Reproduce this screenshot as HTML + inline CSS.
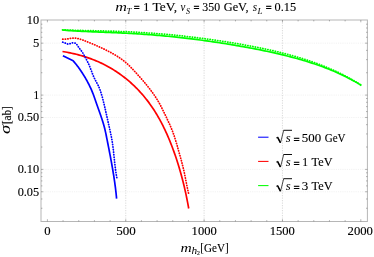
<!DOCTYPE html>
<html><head><meta charset="utf-8"><title>plot</title>
<style>
html,body{margin:0;padding:0;background:#fff;}
svg{display:block;will-change:transform;}
text{font-family:"Liberation Serif",serif;fill:#000;stroke:#000;stroke-width:0.12px;}
.i{font-style:italic;stroke-width:0px;}
.e{stroke-width:0.4px;}
</style></head><body>
<svg width="374" height="257" viewBox="0 0 374 257">
<rect width="374" height="257" fill="#fff"/>
<g stroke="#cccccc" stroke-width="0.7" stroke-dasharray="1.25,1.25" fill="none">
<line x1="125.75" y1="20.0" x2="125.75" y2="221.5"/>
<line x1="204.10" y1="20.0" x2="204.10" y2="221.5"/>
<line x1="282.45" y1="20.0" x2="282.45" y2="221.5"/>
</g>
<g stroke="#e8e8e8" stroke-width="0.6" stroke-dasharray="1.1,1.1" fill="none">
<line x1="41.0" y1="43.17" x2="367.4" y2="43.17"/>
<line x1="41.0" y1="95.10" x2="367.4" y2="95.10"/>
<line x1="41.0" y1="117.47" x2="367.4" y2="117.47"/>
<line x1="41.0" y1="169.40" x2="367.4" y2="169.40"/>
<line x1="41.0" y1="191.77" x2="367.4" y2="191.77"/>
</g>
<path d="M62.50,30.03 L64.65,30.21 L66.80,30.38 L68.95,30.54 L71.10,30.68 L73.25,30.82 L75.40,30.95 L77.55,31.07 L79.70,31.19 L81.85,31.30 L84.00,31.40 L86.15,31.50 L88.30,31.60 L90.45,31.69 L92.61,31.78 L94.76,31.86 L96.91,31.95 L99.06,32.03 L101.21,32.12 L103.36,32.20 L105.51,32.29 L107.66,32.37 L109.81,32.46 L111.96,32.55 L114.11,32.64 L116.26,32.73 L118.41,32.83 L120.56,32.93 L122.71,33.03 L124.86,33.14 L127.01,33.25 L129.16,33.36 L131.31,33.48 L133.46,33.61 L135.61,33.73 L137.76,33.87 L139.91,34.00 L142.06,34.14 L144.21,34.29 L146.36,34.44 L148.51,34.60 L150.66,34.76 L152.82,34.93 L154.97,35.11 L157.12,35.29 L159.27,35.47 L161.42,35.66 L163.57,35.85 L165.72,36.06 L167.87,36.26 L170.02,36.47 L172.17,36.69 L174.32,36.91 L176.47,37.14 L178.62,37.37 L180.77,37.61 L182.92,37.85 L185.07,38.10 L187.22,38.36 L189.37,38.62 L191.52,38.88 L193.67,39.15 L195.82,39.42 L197.97,39.70 L200.12,39.98 L202.27,40.27 L204.42,40.57 L206.57,40.86 L208.72,41.17 L210.87,41.48 L213.03,41.79 L215.18,42.11 L217.33,42.43 L219.48,42.75 L221.63,43.09 L223.78,43.42 L225.93,43.76 L228.08,44.11 L230.23,44.46 L232.38,44.82 L234.53,45.18 L236.68,45.54 L238.83,45.91 L240.98,46.29 L243.13,46.67 L245.28,47.06 L247.43,47.45 L249.58,47.85 L251.73,48.26 L253.88,48.67 L256.03,49.08 L258.18,49.51 L260.33,49.94 L262.48,50.37 L264.63,50.82 L266.78,51.27 L268.93,51.73 L271.08,52.19 L273.24,52.67 L275.39,53.15 L277.54,53.65 L279.69,54.15 L281.84,54.66 L283.99,55.18 L286.14,55.71 L288.29,56.25 L290.44,56.81 L292.59,57.37 L294.74,57.95 L296.89,58.54 L299.04,59.14 L301.19,59.76 L303.34,60.39 L305.49,61.04 L307.64,61.70 L309.79,62.38 L311.94,63.07 L314.09,63.78 L316.24,64.51 L318.39,65.26 L320.54,66.03 L322.69,66.82 L324.84,67.63 L326.99,68.46 L329.14,69.31 L331.29,70.19 L333.45,71.09 L335.60,72.01 L337.75,72.96 L339.90,73.94 L342.05,74.95 L344.20,75.98 L346.35,77.05 L348.50,78.14 L350.65,79.27 L352.80,80.43 L354.95,81.62 L357.10,82.85 L359.25,84.12 L361.40,85.42" fill="none" stroke="#00ff00" stroke-width="1.7" stroke-linejoin="round"/>
<path d="M62.50,29.86 L64.65,29.95 L66.80,30.03 L68.95,30.11 L71.10,30.18 L73.25,30.25 L75.40,30.31 L77.55,30.37 L79.70,30.42 L81.85,30.48 L84.00,30.52 L86.15,30.57 L88.30,30.62 L90.45,30.67 L92.61,30.71 L94.76,30.76 L96.91,30.81 L99.06,30.85 L101.21,30.90 L103.36,30.96 L105.51,31.01 L107.66,31.07 L109.81,31.13 L111.96,31.19 L114.11,31.26 L116.26,31.33 L118.41,31.41 L120.56,31.49 L122.71,31.57 L124.86,31.66 L127.01,31.75 L129.16,31.85 L131.31,31.95 L133.46,32.06 L135.61,32.17 L137.76,32.29 L139.91,32.41 L142.06,32.54 L144.21,32.68 L146.36,32.82 L148.51,32.96 L150.66,33.11 L152.82,33.27 L154.97,33.43 L157.12,33.60 L159.27,33.77 L161.42,33.95 L163.57,34.14 L165.72,34.33 L167.87,34.52 L170.02,34.72 L172.17,34.93 L174.32,35.14 L176.47,35.36 L178.62,35.58 L180.77,35.81 L182.92,36.04 L185.07,36.28 L187.22,36.53 L189.37,36.77 L191.52,37.03 L193.67,37.29 L195.82,37.55 L197.97,37.82 L200.12,38.10 L202.27,38.38 L204.42,38.66 L206.57,38.95 L208.72,39.25 L210.87,39.55 L213.03,39.85 L215.18,40.16 L217.33,40.48 L219.48,40.80 L221.63,41.12 L223.78,41.45 L225.93,41.79 L228.08,42.13 L230.23,42.48 L232.38,42.83 L234.53,43.19 L236.68,43.55 L238.83,43.92 L240.98,44.30 L243.13,44.68 L245.28,45.07 L247.43,45.46 L249.58,45.87 L251.73,46.27 L253.88,46.69 L256.03,47.11 L258.18,47.54 L260.33,47.98 L262.48,48.42 L264.63,48.88 L266.78,49.34 L268.93,49.81 L271.08,50.29 L273.24,50.78 L275.39,51.28 L277.54,51.79 L279.69,52.31 L281.84,52.84 L283.99,53.38 L286.14,53.93 L288.29,54.50 L290.44,55.08 L292.59,55.67 L294.74,56.28 L296.89,56.90 L299.04,57.53 L301.19,58.18 L303.34,58.85 L305.49,59.53 L307.64,60.23 L309.79,60.94 L311.94,61.68 L314.09,62.43 L316.24,63.20 L318.39,63.99 L320.54,64.81 L322.69,65.64 L324.84,66.50 L326.99,67.38 L329.14,68.29 L331.29,69.22 L333.45,70.17 L335.60,71.15 L337.75,72.16 L339.90,73.20 L342.05,74.27 L344.20,75.36 L346.35,76.49 L348.50,77.65 L350.65,78.84 L352.80,80.06 L354.95,81.32 L357.10,82.62 L359.25,83.95 L361.40,85.32" fill="none" stroke="#00ff00" stroke-width="1.75" stroke-dasharray="0.3,2.25" stroke-linecap="round" stroke-linejoin="round"/>
<path d="M62.48,51.50 L64.02,51.74 L65.56,52.01 L67.10,52.28 L68.63,52.58 L70.16,52.88 L71.69,53.21 L73.22,53.55 L74.75,53.90 L76.27,54.27 L77.78,54.66 L79.29,55.06 L80.80,55.48 L82.30,55.91 L83.80,56.37 L85.29,56.84 L86.78,57.32 L88.26,57.82 L89.73,58.34 L91.20,58.88 L92.66,59.44 L94.12,60.01 L95.57,60.60 L97.01,61.21 L98.44,61.83 L99.86,62.47 L101.28,63.14 L102.68,63.81 L104.08,64.51 L105.47,65.22 L106.85,65.95 L108.22,66.70 L109.59,67.47 L110.94,68.25 L112.28,69.05 L113.61,69.87 L114.93,70.70 L116.24,71.56 L117.54,72.42 L118.83,73.31 L120.11,74.21 L121.37,75.13 L122.63,76.06 L123.87,77.01 L125.10,77.97 L126.32,78.95 L127.53,79.94 L128.72,80.95 L129.91,81.97 L131.08,83.01 L132.23,84.06 L133.38,85.13 L134.51,86.20 L135.63,87.30 L136.73,88.40 L137.82,89.52 L138.90,90.65 L139.96,91.80 L141.01,92.95 L142.05,94.12 L143.07,95.30 L144.08,96.49 L145.07,97.70 L146.05,98.91 L147.01,100.14 L147.96,101.37 L148.89,102.62 L149.81,103.88 L150.71,105.15 L151.60,106.43 L152.48,107.71 L153.34,109.01 L154.19,110.32 L155.02,111.63 L155.84,112.96 L156.65,114.29 L157.45,115.63 L158.23,116.98 L159.01,118.34 L159.76,119.70 L160.51,121.07 L161.25,122.45 L161.97,123.84 L162.68,125.23 L163.38,126.63 L164.07,128.03 L164.75,129.44 L165.42,130.86 L166.08,132.28 L166.72,133.71 L167.36,135.14 L167.99,136.58 L168.60,138.02 L169.21,139.46 L169.81,140.91 L170.40,142.37 L170.97,143.82 L171.54,145.28 L172.11,146.75 L172.66,148.21 L173.20,149.68 L173.74,151.16 L174.27,152.63 L174.79,154.10 L175.30,155.58 L175.80,157.06 L176.30,158.54 L176.79,160.03 L177.27,161.51 L177.74,163.00 L178.21,164.49 L178.67,165.98 L179.12,167.47 L179.57,168.97 L180.00,170.47 L180.43,171.97 L180.85,173.47 L181.27,174.97 L181.68,176.47 L182.08,177.98 L182.47,179.49 L182.86,181.00 L183.24,182.51 L183.61,184.02 L183.98,185.54 L184.34,187.06 L184.69,188.58 L185.04,190.10 L185.38,191.62 L185.72,193.15 L186.04,194.67 L186.36,196.20 L186.68,197.73 L186.99,199.26 L187.29,200.79 L187.59,202.33 L187.88,203.87 L188.16,205.40 L188.44,206.94 L188.71,208.49" fill="none" stroke="#ff0000" stroke-width="1.7" stroke-linejoin="round"/>
<path d="M62.70,39.15 L64.26,39.16 L65.83,39.05 L67.40,38.87 L68.97,38.64 L70.53,38.42 L72.10,38.24 L73.65,38.14 L75.19,38.17 L76.72,38.33 L78.24,38.63 L79.74,39.02 L81.24,39.49 L82.72,40.01 L84.20,40.57 L85.68,41.14 L87.14,41.72 L88.61,42.30 L90.06,42.89 L91.51,43.48 L92.96,44.09 L94.40,44.70 L95.84,45.33 L97.27,45.96 L98.70,46.60 L100.13,47.25 L101.55,47.91 L102.96,48.58 L104.38,49.26 L105.79,49.96 L107.20,50.66 L108.60,51.38 L110.00,52.11 L111.39,52.86 L112.77,53.62 L114.14,54.41 L115.50,55.21 L116.84,56.03 L118.17,56.87 L119.48,57.74 L120.77,58.63 L122.04,59.55 L123.29,60.49 L124.52,61.46 L125.72,62.46 L126.89,63.49 L128.04,64.55 L129.17,65.63 L130.28,66.73 L131.38,67.85 L132.46,68.99 L133.54,70.14 L134.60,71.29 L135.67,72.45 L136.73,73.61 L137.79,74.78 L138.84,75.95 L139.89,77.12 L140.94,78.30 L141.98,79.49 L143.01,80.68 L144.03,81.88 L145.05,83.08 L146.05,84.29 L147.05,85.51 L148.03,86.74 L149.01,87.97 L149.97,89.22 L150.92,90.47 L151.85,91.73 L152.77,93.00 L153.67,94.28 L154.56,95.57 L155.43,96.87 L156.29,98.19 L157.12,99.51 L157.93,100.85 L158.73,102.20 L159.50,103.56 L160.26,104.94 L160.99,106.32 L161.71,107.72 L162.42,109.12 L163.11,110.53 L163.80,111.95 L164.48,113.37 L165.16,114.79 L165.83,116.21 L166.50,117.63 L167.18,119.05 L167.85,120.47 L168.51,121.90 L169.17,123.32 L169.82,124.75 L170.45,126.19 L171.07,127.63 L171.67,129.08 L172.24,130.53 L172.80,132.00 L173.33,133.47 L173.85,134.95 L174.35,136.44 L174.84,137.93 L175.31,139.43 L175.77,140.93 L176.23,142.44 L176.67,143.94 L177.10,145.45 L177.54,146.97 L177.96,148.48 L178.39,150.00 L178.81,151.51 L179.24,153.02 L179.66,154.54 L180.09,156.05 L180.51,157.56 L180.93,159.07 L181.35,160.59 L181.75,162.10 L182.15,163.62 L182.55,165.14 L182.92,166.66 L183.29,168.18 L183.65,169.71 L183.99,171.24 L184.32,172.77 L184.64,174.31 L184.95,175.85 L185.26,177.39 L185.56,178.93 L185.86,180.47 L186.16,182.01 L186.46,183.55 L186.77,185.09 L187.08,186.63 L187.40,188.17 L187.73,189.70 L188.07,191.24 L188.42,192.77 L188.79,194.29" fill="none" stroke="#ff0000" stroke-width="1.75" stroke-dasharray="0.3,2.25" stroke-linecap="round" stroke-linejoin="round"/>
<path d="M62.90,55.80 L73.12,60.78 L73.81,61.58 L74.50,62.38 L75.17,63.19 L75.84,64.01 L76.49,64.83 L77.14,65.67 L77.78,66.50 L78.41,67.35 L79.03,68.20 L79.64,69.06 L80.25,69.92 L80.84,70.79 L81.43,71.67 L82.01,72.55 L82.59,73.43 L83.15,74.33 L83.71,75.22 L84.26,76.12 L84.80,77.03 L85.34,77.94 L85.87,78.85 L86.39,79.77 L86.90,80.69 L87.41,81.62 L87.91,82.55 L88.40,83.48 L88.88,84.42 L89.35,85.37 L89.82,86.31 L90.27,87.27 L90.71,88.22 L91.14,89.18 L91.57,90.15 L91.98,91.12 L92.38,92.09 L92.77,93.07 L93.15,94.05 L93.52,95.04 L93.88,96.03 L94.23,97.02 L94.58,98.01 L94.93,99.01 L95.28,100.00 L95.62,101.00 L95.96,102.00 L96.31,103.00 L96.66,103.99 L97.01,104.99 L97.37,105.98 L97.72,106.98 L98.08,107.97 L98.43,108.97 L98.79,109.96 L99.15,110.95 L99.50,111.95 L99.86,112.94 L100.21,113.94 L100.56,114.94 L100.90,115.93 L101.24,116.93 L101.58,117.93 L101.91,118.93 L102.24,119.94 L102.56,120.94 L102.87,121.95 L103.18,122.95 L103.47,123.96 L103.76,124.98 L104.04,125.99 L104.31,127.01 L104.57,128.03 L104.83,129.05 L105.07,130.07 L105.30,131.10 L105.53,132.13 L105.76,133.16 L105.97,134.19 L106.19,135.22 L106.40,136.25 L106.60,137.29 L106.81,138.32 L107.01,139.36 L107.22,140.39 L107.42,141.43 L107.63,142.46 L107.83,143.50 L108.04,144.53 L108.24,145.57 L108.44,146.60 L108.65,147.64 L108.85,148.67 L109.05,149.71 L109.25,150.74 L109.45,151.78 L109.65,152.82 L109.85,153.85 L110.05,154.89 L110.24,155.93 L110.44,156.96 L110.64,158.00 L110.83,159.04 L111.02,160.07 L111.21,161.11 L111.40,162.15 L111.59,163.19 L111.78,164.23 L111.96,165.26 L112.14,166.30 L112.33,167.34 L112.51,168.38 L112.68,169.42 L112.86,170.46 L113.03,171.50 L113.20,172.54 L113.37,173.58 L113.54,174.63 L113.71,175.67 L113.87,176.71 L114.03,177.75 L114.19,178.80 L114.34,179.84 L114.49,180.88 L114.64,181.93 L114.79,182.97 L114.93,184.02 L115.07,185.06 L115.21,186.11 L115.35,187.15 L115.48,188.20 L115.61,189.25 L115.73,190.30 L115.85,191.35 L115.97,192.39 L116.08,193.44 L116.19,194.49 L116.30,195.54 L116.41,196.60 L116.50,197.65 L116.60,198.70" fill="none" stroke="#0000ff" stroke-width="1.7" stroke-linejoin="round"/>
<path d="M62.70,42.18 L63.77,42.45 L64.84,42.90 L65.91,43.41 L66.97,43.85 L68.02,44.09 L69.07,44.00 L70.13,43.63 L71.21,43.20 L72.33,42.90 L73.44,42.78 L74.50,42.89 L75.45,43.27 L76.28,43.93 L77.01,44.80 L77.68,45.78 L78.33,46.81 L78.98,47.80 L79.66,48.72 L80.35,49.58 L81.04,50.43 L81.70,51.31 L82.33,52.22 L82.93,53.16 L83.51,54.13 L84.07,55.12 L84.62,56.12 L85.16,57.13 L85.69,58.13 L86.22,59.13 L86.74,60.14 L87.26,61.14 L87.76,62.14 L88.25,63.15 L88.72,64.16 L89.17,65.18 L89.61,66.22 L90.02,67.26 L90.43,68.31 L90.82,69.37 L91.22,70.43 L91.61,71.48 L92.00,72.54 L92.41,73.60 L92.82,74.65 L93.25,75.69 L93.70,76.72 L94.18,77.75 L94.68,78.76 L95.20,79.76 L95.74,80.75 L96.28,81.74 L96.82,82.73 L97.35,83.73 L97.86,84.73 L98.35,85.74 L98.81,86.77 L99.25,87.80 L99.66,88.85 L100.06,89.90 L100.43,90.96 L100.79,92.03 L101.13,93.11 L101.45,94.19 L101.77,95.27 L102.07,96.36 L102.37,97.45 L102.65,98.54 L102.93,99.64 L103.21,100.73 L103.49,101.83 L103.76,102.92 L104.02,104.02 L104.29,105.12 L104.55,106.21 L104.81,107.31 L105.07,108.41 L105.32,109.50 L105.57,110.60 L105.82,111.70 L106.07,112.79 L106.32,113.89 L106.56,114.99 L106.81,116.09 L107.05,117.19 L107.30,118.28 L107.54,119.38 L107.78,120.48 L108.03,121.58 L108.27,122.68 L108.51,123.78 L108.76,124.88 L109.00,125.98 L109.25,127.08 L109.49,128.18 L109.74,129.28 L109.98,130.38 L110.23,131.48 L110.47,132.58 L110.70,133.68 L110.94,134.79 L111.16,135.89 L111.38,136.99 L111.59,138.10 L111.80,139.21 L111.99,140.32 L112.17,141.43 L112.35,142.54 L112.52,143.65 L112.68,144.77 L112.83,145.88 L112.97,147.00 L113.11,148.12 L113.25,149.24 L113.38,150.36 L113.50,151.48 L113.63,152.60 L113.75,153.72 L113.87,154.84 L113.98,155.96 L114.10,157.08 L114.21,158.20 L114.33,159.33 L114.45,160.45 L114.56,161.57 L114.68,162.69 L114.81,163.81 L114.94,164.93 L115.07,166.05 L115.20,167.17 L115.34,168.29 L115.49,169.40 L115.64,170.52 L115.80,171.64 L115.97,172.75 L116.15,173.86 L116.33,174.97 L116.53,176.08 L116.73,177.19 L116.95,178.30" fill="none" stroke="#0000ff" stroke-width="1.75" stroke-dasharray="0.3,2.25" stroke-linecap="round" stroke-linejoin="round"/>
<rect x="41.0" y="20.0" width="326.40" height="201.50" fill="none" stroke="#b6b6b6" stroke-width="1.0"/>
<g stroke="#6a6a6a" stroke-width="0.5">
<line x1="47.40" y1="221.5" x2="47.40" y2="219.2"/>
<line x1="47.40" y1="20.0" x2="47.40" y2="22.3"/>
<line x1="63.07" y1="221.5" x2="63.07" y2="220.1"/>
<line x1="63.07" y1="20.0" x2="63.07" y2="21.4"/>
<line x1="78.74" y1="221.5" x2="78.74" y2="220.1"/>
<line x1="78.74" y1="20.0" x2="78.74" y2="21.4"/>
<line x1="94.41" y1="221.5" x2="94.41" y2="220.1"/>
<line x1="94.41" y1="20.0" x2="94.41" y2="21.4"/>
<line x1="110.08" y1="221.5" x2="110.08" y2="220.1"/>
<line x1="110.08" y1="20.0" x2="110.08" y2="21.4"/>
<line x1="125.75" y1="221.5" x2="125.75" y2="219.2"/>
<line x1="125.75" y1="20.0" x2="125.75" y2="22.3"/>
<line x1="141.42" y1="221.5" x2="141.42" y2="220.1"/>
<line x1="141.42" y1="20.0" x2="141.42" y2="21.4"/>
<line x1="157.09" y1="221.5" x2="157.09" y2="220.1"/>
<line x1="157.09" y1="20.0" x2="157.09" y2="21.4"/>
<line x1="172.76" y1="221.5" x2="172.76" y2="220.1"/>
<line x1="172.76" y1="20.0" x2="172.76" y2="21.4"/>
<line x1="188.43" y1="221.5" x2="188.43" y2="220.1"/>
<line x1="188.43" y1="20.0" x2="188.43" y2="21.4"/>
<line x1="204.10" y1="221.5" x2="204.10" y2="219.2"/>
<line x1="204.10" y1="20.0" x2="204.10" y2="22.3"/>
<line x1="219.77" y1="221.5" x2="219.77" y2="220.1"/>
<line x1="219.77" y1="20.0" x2="219.77" y2="21.4"/>
<line x1="235.44" y1="221.5" x2="235.44" y2="220.1"/>
<line x1="235.44" y1="20.0" x2="235.44" y2="21.4"/>
<line x1="251.11" y1="221.5" x2="251.11" y2="220.1"/>
<line x1="251.11" y1="20.0" x2="251.11" y2="21.4"/>
<line x1="266.78" y1="221.5" x2="266.78" y2="220.1"/>
<line x1="266.78" y1="20.0" x2="266.78" y2="21.4"/>
<line x1="282.45" y1="221.5" x2="282.45" y2="219.2"/>
<line x1="282.45" y1="20.0" x2="282.45" y2="22.3"/>
<line x1="298.12" y1="221.5" x2="298.12" y2="220.1"/>
<line x1="298.12" y1="20.0" x2="298.12" y2="21.4"/>
<line x1="313.79" y1="221.5" x2="313.79" y2="220.1"/>
<line x1="313.79" y1="20.0" x2="313.79" y2="21.4"/>
<line x1="329.46" y1="221.5" x2="329.46" y2="220.1"/>
<line x1="329.46" y1="20.0" x2="329.46" y2="21.4"/>
<line x1="345.13" y1="221.5" x2="345.13" y2="220.1"/>
<line x1="345.13" y1="20.0" x2="345.13" y2="21.4"/>
<line x1="360.80" y1="221.5" x2="360.80" y2="219.2"/>
<line x1="360.80" y1="20.0" x2="360.80" y2="22.3"/>
<line x1="41.0" y1="208.25" x2="42.4" y2="208.25"/>
<line x1="367.4" y1="208.25" x2="366.0" y2="208.25"/>
<line x1="41.0" y1="198.97" x2="42.4" y2="198.97"/>
<line x1="367.4" y1="198.97" x2="366.0" y2="198.97"/>
<line x1="41.0" y1="191.77" x2="43.3" y2="191.77"/>
<line x1="367.4" y1="191.77" x2="365.09999999999997" y2="191.77"/>
<line x1="41.0" y1="185.88" x2="42.4" y2="185.88"/>
<line x1="367.4" y1="185.88" x2="366.0" y2="185.88"/>
<line x1="41.0" y1="180.91" x2="42.4" y2="180.91"/>
<line x1="367.4" y1="180.91" x2="366.0" y2="180.91"/>
<line x1="41.0" y1="176.60" x2="42.4" y2="176.60"/>
<line x1="367.4" y1="176.60" x2="366.0" y2="176.60"/>
<line x1="41.0" y1="172.80" x2="42.4" y2="172.80"/>
<line x1="367.4" y1="172.80" x2="366.0" y2="172.80"/>
<line x1="41.0" y1="169.40" x2="43.3" y2="169.40"/>
<line x1="367.4" y1="169.40" x2="365.09999999999997" y2="169.40"/>
<line x1="41.0" y1="147.03" x2="42.4" y2="147.03"/>
<line x1="367.4" y1="147.03" x2="366.0" y2="147.03"/>
<line x1="41.0" y1="133.95" x2="42.4" y2="133.95"/>
<line x1="367.4" y1="133.95" x2="366.0" y2="133.95"/>
<line x1="41.0" y1="124.67" x2="42.4" y2="124.67"/>
<line x1="367.4" y1="124.67" x2="366.0" y2="124.67"/>
<line x1="41.0" y1="117.47" x2="43.3" y2="117.47"/>
<line x1="367.4" y1="117.47" x2="365.09999999999997" y2="117.47"/>
<line x1="41.0" y1="111.58" x2="42.4" y2="111.58"/>
<line x1="367.4" y1="111.58" x2="366.0" y2="111.58"/>
<line x1="41.0" y1="106.61" x2="42.4" y2="106.61"/>
<line x1="367.4" y1="106.61" x2="366.0" y2="106.61"/>
<line x1="41.0" y1="102.30" x2="42.4" y2="102.30"/>
<line x1="367.4" y1="102.30" x2="366.0" y2="102.30"/>
<line x1="41.0" y1="98.50" x2="42.4" y2="98.50"/>
<line x1="367.4" y1="98.50" x2="366.0" y2="98.50"/>
<line x1="41.0" y1="95.10" x2="43.3" y2="95.10"/>
<line x1="367.4" y1="95.10" x2="365.09999999999997" y2="95.10"/>
<line x1="41.0" y1="72.73" x2="42.4" y2="72.73"/>
<line x1="367.4" y1="72.73" x2="366.0" y2="72.73"/>
<line x1="41.0" y1="59.65" x2="42.4" y2="59.65"/>
<line x1="367.4" y1="59.65" x2="366.0" y2="59.65"/>
<line x1="41.0" y1="50.37" x2="42.4" y2="50.37"/>
<line x1="367.4" y1="50.37" x2="366.0" y2="50.37"/>
<line x1="41.0" y1="43.17" x2="43.3" y2="43.17"/>
<line x1="367.4" y1="43.17" x2="365.09999999999997" y2="43.17"/>
<line x1="41.0" y1="37.28" x2="42.4" y2="37.28"/>
<line x1="367.4" y1="37.28" x2="366.0" y2="37.28"/>
<line x1="41.0" y1="32.31" x2="42.4" y2="32.31"/>
<line x1="367.4" y1="32.31" x2="366.0" y2="32.31"/>
<line x1="41.0" y1="28.00" x2="42.4" y2="28.00"/>
<line x1="367.4" y1="28.00" x2="366.0" y2="28.00"/>
<line x1="41.0" y1="24.20" x2="42.4" y2="24.20"/>
<line x1="367.4" y1="24.20" x2="366.0" y2="24.20"/>
</g>
<text class="n" font-size="12.0" transform="translate(44.32,234.75) scale(1.059,1.000)">0</text>
<text class="n" font-size="12.0" transform="translate(116.15,234.75) scale(1.085,1.000)">500</text>
<text class="n" font-size="12.0" transform="translate(191.60,234.75) scale(1.049,1.000)">1000</text>
<text class="n" font-size="12.0" transform="translate(269.70,234.75) scale(1.049,1.000)">1500</text>
<text class="n" font-size="12.0" transform="translate(347.56,234.75) scale(1.059,1.000)">2000</text>
<text class="n" font-size="12.0" transform="translate(26.82,24.30) scale(1.029,1.000)">10</text>
<text class="n" font-size="12.0" transform="translate(32.88,46.90) scale(1.049,1.000)">5</text>
<text class="n" font-size="12.0" transform="translate(33.41,98.90) scale(0.946,1.000)">1</text>
<text class="n" font-size="12.0" transform="translate(17.64,121.10) scale(1.025,1.000)">0.50</text>
<text class="n" font-size="12.0" transform="translate(17.64,173.40) scale(1.025,1.000)">0.10</text>
<text class="n" font-size="12.0" transform="translate(17.64,195.80) scale(1.025,1.000)">0.05</text>
<text class="i" font-size="13.2" transform="translate(115.24,10.70) scale(1.222,1.000)">m</text>
<text class="i" font-size="9.2" transform="translate(126.43,13.50) scale(0.949,1.000)">T</text>
<text class="e" font-size="12" transform="translate(133.72,11.10) scale(0.878,0.800)">=</text>
<text class="n" font-size="12" transform="translate(143.23,10.70) scale(1.017,1.000)">1</text>
<text class="n" font-size="12" transform="translate(152.46,10.70) scale(1.121,1.000)">TeV,</text>
<text class="i" font-size="13.2" transform="translate(180.46,10.70) scale(0.823,1.000)">v</text>
<text class="i" font-size="9.2" transform="translate(185.92,13.50) scale(0.870,1.000)">S</text>
<text class="e" font-size="12" transform="translate(193.62,11.10) scale(0.878,0.800)">=</text>
<text class="n" font-size="12" transform="translate(202.34,10.70) scale(0.984,1.000)">350</text>
<text class="n" font-size="12" transform="translate(223.71,10.70) scale(1.031,1.000)">GeV,</text>
<text class="i" font-size="13.2" transform="translate(252.76,10.70) scale(0.850,1.000)">s</text>
<text class="i" font-size="9.2" transform="translate(257.61,13.50) scale(0.978,1.000)">L</text>
<text class="e" font-size="12" transform="translate(265.82,11.10) scale(0.878,0.800)">=</text>
<text class="n" font-size="12" transform="translate(274.54,10.70) scale(1.025,1.000)">0.15</text>
<text class="i" font-size="13.2" transform="translate(180.46,251.70) scale(1.175,1.000)">m</text>
<text class="i" font-size="10.0" transform="translate(191.50,254.10) scale(1.129,1.000)">h</text>
<text class="n" font-size="5.6" transform="translate(196.96,255.40) scale(1.020,1.000)">2</text>
<text class="n" font-size="12" transform="translate(200.29,251.70) scale(0.927,1.000)">[GeV]</text>
<g transform="translate(10.0,133.6) rotate(-90)">
<text class="i" font-size="13.6" transform="translate(-0.36,0.10) scale(1.381,1.000)">σ</text>
<text class="n" font-size="12" transform="translate(9.50,0.60) scale(0.922,1.000)">[ab]</text>
</g>
<line x1="258.1" y1="137.20" x2="268.5" y2="137.20" stroke="#0000ff" stroke-width="1.05"/>
<path d="M276.0,138.10 l1.5,-1.0 l3.0,5.8 l3.2,-12.6" fill="none" stroke="#000" stroke-width="0.7" stroke-linejoin="miter"/>
<path d="M277.5,137.10 l2.9,5.6" fill="none" stroke="#000" stroke-width="1.5"/>
<path d="M283.5,130.30 H292.0" fill="none" stroke="#000" stroke-width="0.95"/>
<text class="i" font-size="13.2" transform="translate(285.74,141.65) scale(0.959,1.000)">s</text>
<text class="e" font-size="12" transform="translate(293.40,142.75) scale(0.914,0.800)">=</text>
<text class="n" font-size="12.0" transform="translate(301.86,141.65) scale(1.074,1.000)">500</text>
<text class="n" font-size="12.0" transform="translate(324.66,141.65) scale(0.925,1.000)">GeV</text>
<line x1="258.1" y1="161.40" x2="268.5" y2="161.40" stroke="#ff0000" stroke-width="1.05"/>
<path d="M276.0,162.30 l1.5,-1.0 l3.0,5.8 l3.2,-12.6" fill="none" stroke="#000" stroke-width="0.7" stroke-linejoin="miter"/>
<path d="M277.5,161.30 l2.9,5.6" fill="none" stroke="#000" stroke-width="1.5"/>
<path d="M283.5,154.50 H292.0" fill="none" stroke="#000" stroke-width="0.95"/>
<text class="i" font-size="13.2" transform="translate(285.74,165.85) scale(0.959,1.000)">s</text>
<text class="e" font-size="12" transform="translate(293.40,166.95) scale(0.914,0.800)">=</text>
<text class="n" font-size="12.0" transform="translate(302.28,165.85) scale(0.969,1.000)">1</text>
<text class="n" font-size="12.0" transform="translate(311.59,165.85) scale(1.022,1.000)">TeV</text>
<line x1="258.1" y1="185.60" x2="268.5" y2="185.60" stroke="#00ff00" stroke-width="1.05"/>
<path d="M276.0,186.50 l1.5,-1.0 l3.0,5.8 l3.2,-12.6" fill="none" stroke="#000" stroke-width="0.7" stroke-linejoin="miter"/>
<path d="M277.5,185.50 l2.9,5.6" fill="none" stroke="#000" stroke-width="1.5"/>
<path d="M283.5,178.70 H292.0" fill="none" stroke="#000" stroke-width="0.95"/>
<text class="i" font-size="13.2" transform="translate(285.74,190.05) scale(0.959,1.000)">s</text>
<text class="e" font-size="12" transform="translate(293.40,191.15) scale(0.914,0.800)">=</text>
<text class="n" font-size="12.0" transform="translate(301.78,190.05) scale(1.084,1.000)">3</text>
<text class="n" font-size="12.0" transform="translate(311.59,190.05) scale(1.022,1.000)">TeV</text>
</svg></body></html>
